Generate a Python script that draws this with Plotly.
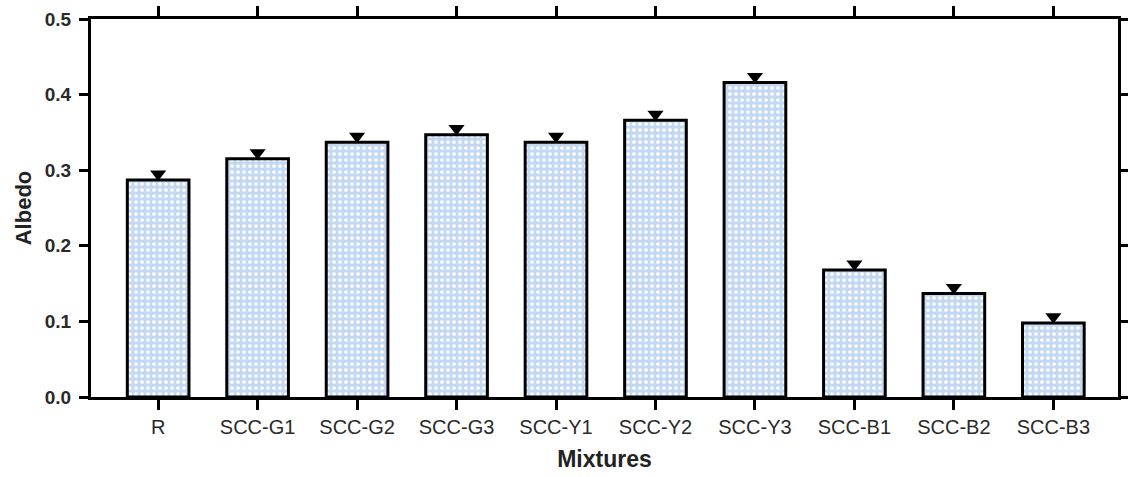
import plotly.graph_objects as go

categories = ["R", "SCC-G1", "SCC-G2", "SCC-G3", "SCC-Y1", "SCC-Y2", "SCC-Y3",
              "SCC-B1", "SCC-B2", "SCC-B3"]
albedo = [0.287, 0.315, 0.337, 0.347, 0.337, 0.366, 0.416, 0.168, 0.137, 0.098]
y_ticks = [0.0, 0.1, 0.2, 0.3, 0.4, 0.5]
y_tick_labels = ["0.0", "0.1", "0.2", "0.3", "0.4", "0.5"]

MARK_OFFSET = 0.008
FONT = "Liberation Sans, Arial, sans-serif"

xs = list(range(len(categories)))

fig = go.Figure()
fig.add_trace(go.Bar(
    x=xs, y=albedo, width=0.62,
    marker=dict(
        color="#c6daf3",
        line=dict(color="black", width=3),
        pattern=dict(shape=".", fgcolor="white", bgcolor="#c3d8f2",
                     size=6, solidity=0.3, fillmode="replace"),
    ),
    showlegend=False, hoverinfo="skip",
))
fig.add_trace(go.Scatter(
    x=xs, y=[v + MARK_OFFSET for v in albedo], mode="markers",
    marker=dict(symbol="triangle-down", size=14, color="black"),
    showlegend=False, hoverinfo="skip",
))

fig.update_layout(
    width=1128, height=477,
    margin=dict(l=91, r=10, t=19, b=80, autoexpand=False),
    plot_bgcolor="white", paper_bgcolor="white",
    font=dict(family=FONT, color="#222222"),
    xaxis=dict(
        range=[-0.675, 9.65], tickmode="array", tickvals=xs, ticktext=categories,
        showline=True, linecolor="black", linewidth=3, mirror="ticks",
        ticks="outside", ticklen=10, tickwidth=3, tickcolor="black",
        showgrid=False, zeroline=False, automargin=False,
        tickfont=dict(size=20, family=FONT, color="#2a2a2a"),
        title=dict(text="<b>Mixtures</b>", font=dict(size=23, family=FONT, color="#222222"),
                   standoff=14),
    ),
    yaxis=dict(
        range=[0, 0.5], tickmode="array", tickvals=y_ticks,
        ticktext=["<b>%s</b>" % t for t in y_tick_labels],
        showline=True, linecolor="black", linewidth=3, mirror="ticks",
        ticks="outside", ticklen=9, tickwidth=3, tickcolor="black",
        showgrid=False, zeroline=False, automargin=False,
        ticklabelstandoff=4,
        tickfont=dict(size=19, family=FONT, color="#2a2a2a"),
        title=dict(text="<b>Albedo</b>", font=dict(size=22, family=FONT, color="#222222"),
                   standoff=8),
    ),
)

fig.write_html(
    "out.html",
    config={"displayModeBar": False},
    post_script="document.body.style.margin='0';document.body.style.overflow='hidden';",
)
